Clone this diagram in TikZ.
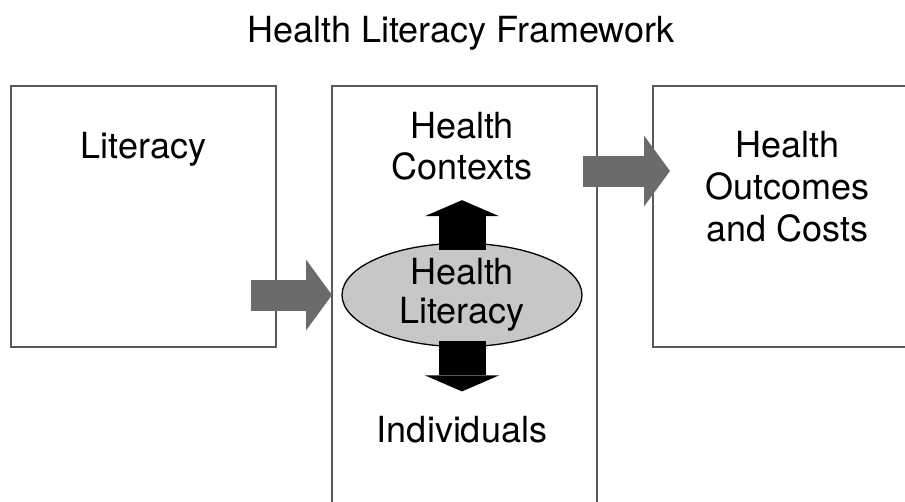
\documentclass[tikz,border=0pt]{standalone}
\usepackage{fontspec}
\setmainfont{TeX Gyre Heros}
\usetikzlibrary{arrows.meta,positioning,shapes.geometric}

\begin{document}
\begin{tikzpicture}[
    x=1pt, y=-1pt,
    node distance=56pt,
    frame/.style={draw=black!65, line width=1.8pt, minimum width=265pt,
                  inner sep=0pt, outer sep=0pt, anchor=north west},
    lbl/.style={align=center, inner sep=0pt,
                font=\fontsize{36}{41}\selectfont},
    feed/.style={line width=31pt, black!58,
                 -{Triangle[length=26pt, width=71pt, line width=0pt]}},
    link/.style={line width=47pt, black,
                 -{Triangle[length=16pt, width=74pt, line width=0pt]}}]
  \clip (0,0) rectangle (905,501);
  \node[lbl] (title) at (461,33) {Health Literacy Framework};
  \node[frame, minimum height=261pt] (lit) at (11,86) {};
  \node[frame, right=56pt of lit.north east, anchor=north west,
        minimum height=450pt] (mid) {};
  \node[frame, right=56pt of mid.north east, anchor=north west,
        minimum width=290pt, minimum height=261pt] (out) {};
  % texts
  \node[lbl] (littxt) at (143.5,149) {Literacy};
  \node[lbl] (ctx) at (462,146) {Health\\Contexts};
  \node[lbl] (ind) at (462,430) {Individuals};
  \node[lbl, font=\fontsize{36}{42}\selectfont] (outtxt) at (787.5,187)
    {Health\\Outcomes\\and Costs};
  \node[lbl, font=\fontsize{36}{39}\selectfont, ellipse, draw=black,
        line width=1.3pt, fill=black!22, minimum width=240pt,
        minimum height=101pt] (hl) at (462,295) {Health\\Literacy};
  % arrows
  \coordinate (fwd) at (600,171);
  \draw[feed, shorten <=-25pt] (hl -| lit.east) -- (hl -| mid.west);
  \draw[feed, shorten <=-14pt, shorten >=-17pt] (fwd -| mid.east) -- (fwd -| out.west);
  \draw[link, shorten <=-7pt, shorten >=20pt] (hl.north) -- (ctx.south);
  \draw[link, shorten <=-6pt, shorten >=25pt] (hl.south) -- (ind.north);
\end{tikzpicture}
\end{document}
